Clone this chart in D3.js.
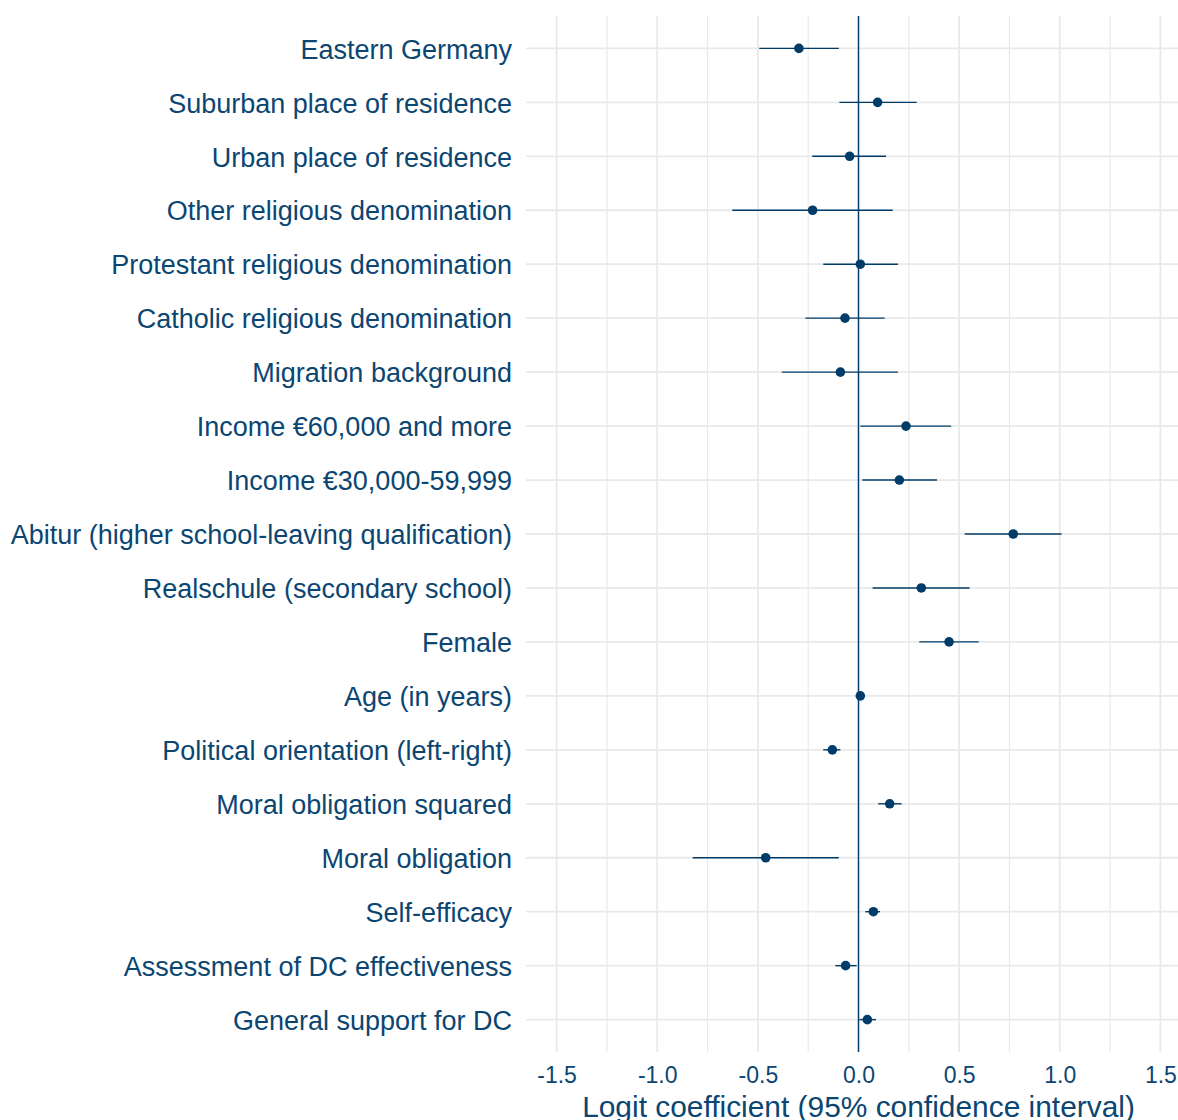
<!DOCTYPE html>
<html>
<head>
<meta charset="utf-8">
<script src="https://cdn.jsdelivr.net/npm/d3@7"></script>
<style>
  html, body { margin: 0; padding: 0; background: #ffffff; }
  svg { display: block; font-family: "Liberation Sans", Arial, Helvetica, sans-serif; }
</style>
</head>
<body>
<svg id="chart" width="1178" height="1120"></svg>
<script>
const categories = [
  "Eastern Germany",
  "Suburban place of residence",
  "Urban place of residence",
  "Other religious denomination",
  "Protestant religious denomination",
  "Catholic religious denomination",
  "Migration background",
  "Income €60,000 and more",
  "Income €30,000-59,999",
  "Abitur (higher school-leaving qualification)",
  "Realschule (secondary school)",
  "Female",
  "Age (in years)",
  "Political orientation (left-right)",
  "Moral obligation squared",
  "Moral obligation",
  "Self-efficacy",
  "Assessment of DC effectiveness",
  "General support for DC"
];
const estimates = [-0.296, 0.095, -0.044, -0.228, 0.009, -0.067, -0.090, 0.236, 0.203, 0.769, 0.312, 0.450, 0.009, -0.130, 0.155, -0.461, 0.074, -0.064, 0.044];
const ciLower   = [-0.493, -0.095, -0.230, -0.627, -0.175, -0.264, -0.381, 0.009, 0.019, 0.528, 0.070, 0.302, 0.000, -0.175, 0.098, -0.824, 0.034, -0.115, 0.004];
const ciUpper   = [-0.098, 0.289, 0.137, 0.170, 0.196, 0.130, 0.196, 0.460, 0.390, 1.009, 0.552, 0.597, 0.018, -0.090, 0.214, -0.098, 0.107, -0.009, 0.087];
const xTicks = [-1.5, -1.0, -0.5, 0.0, 0.5, 1.0, 1.5];
const xMinorTicks = [-1.25, -0.75, -0.25, 0.25, 0.75, 1.25];
const xTitle = "Logit coefficient (95% confidence interval)";

const ink = "#003c69";
const textCol = "#0b4672";
const gridCol = "#e9e9e9";

const rows = categories.map((c, i) => ({ cat: c, est: estimates[i], lo: ciLower[i], hi: ciUpper[i] }));

const svg = d3.select("#chart");
const panel = { left: 526, right: 1191, top: 16, bottom: 1052 };

const x = d3.scaleLinear().domain([-1.652, 1.652]).range([panel.left, panel.right]);
const y = d3.scalePoint().domain(categories).range([panel.top, panel.bottom]).padding(0.6);

// minor vertical grid
svg.append("g").selectAll("line").data(xMinorTicks).join("line")
  .attr("x1", d => x(d)).attr("x2", d => x(d))
  .attr("y1", panel.top).attr("y2", panel.bottom)
  .attr("stroke", gridCol).attr("stroke-width", 1.2);

// major vertical grid
svg.append("g").selectAll("line").data(xTicks).join("line")
  .attr("x1", d => x(d)).attr("x2", d => x(d))
  .attr("y1", panel.top).attr("y2", panel.bottom)
  .attr("stroke", gridCol).attr("stroke-width", 1.8);

// horizontal grid
svg.append("g").selectAll("line").data(categories).join("line")
  .attr("x1", panel.left).attr("x2", panel.right)
  .attr("y1", d => y(d)).attr("y2", d => y(d))
  .attr("stroke", gridCol).attr("stroke-width", 1.8);

// zero reference line
svg.append("line")
  .attr("x1", x(0)).attr("x2", x(0))
  .attr("y1", panel.top).attr("y2", panel.bottom)
  .attr("stroke", ink).attr("stroke-width", 1.4);

// confidence intervals
svg.append("g").selectAll("line").data(rows).join("line")
  .attr("x1", d => x(d.lo)).attr("x2", d => x(d.hi))
  .attr("y1", d => y(d.cat)).attr("y2", d => y(d.cat))
  .attr("stroke", ink).attr("stroke-width", 1.4);

// points
svg.append("g").selectAll("circle").data(rows).join("circle")
  .attr("cx", d => x(d.est)).attr("cy", d => y(d.cat))
  .attr("r", 4.8).attr("fill", ink);

// y axis labels
const yAxis = d3.axisLeft(y).tickSize(0).tickPadding(14);
const gy = svg.append("g").attr("transform", `translate(${panel.left},0)`).call(yAxis);
gy.select(".domain").remove();
gy.selectAll("text")
  .attr("fill", textCol)
  .style("font-size", "27px")
  .attr("dy", "0.36em");

// x axis labels
const xAxis = d3.axisBottom(x).tickValues(xTicks).tickSize(0).tickPadding(0)
  .tickFormat(d3.format(".1f"));
const gx = svg.append("g").attr("transform", `translate(0,${panel.bottom})`).call(xAxis);
gx.select(".domain").remove();
gx.selectAll("text")
  .attr("fill", textCol)
  .style("font-size", "23px")
  .attr("y", 31).attr("dy", 0);
gx.selectAll("text").text(d => d3.format(".1f")(d).replace("−", "-"));

// x title
svg.append("text")
  .attr("x", (panel.left + panel.right) / 2)
  .attr("y", 1117)
  .attr("text-anchor", "middle")
  .attr("fill", textCol)
  .style("font-size", "29.9px")
  .text(xTitle);
</script>
</body>
</html>
